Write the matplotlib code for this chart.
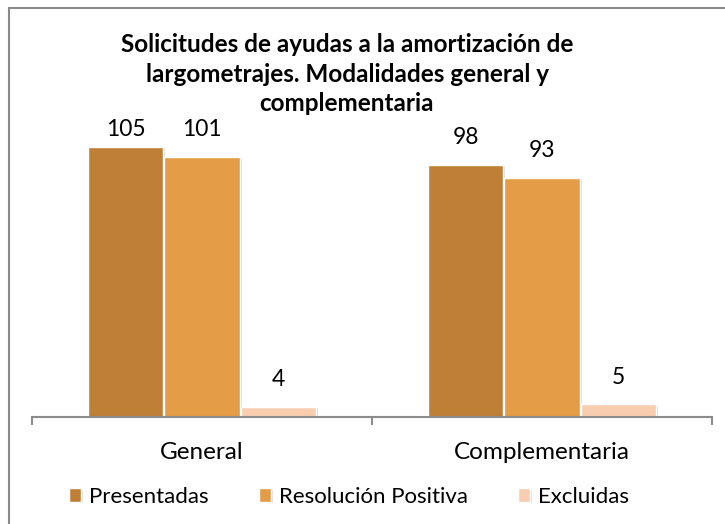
import matplotlib
matplotlib.use('Agg')
import matplotlib.pyplot as plt
import matplotlib.patheffects as pe
from matplotlib.patches import Rectangle
import numpy as np

plt.rcParams['font.family'] = ['Lato', 'DejaVu Sans']

# datos
categorias = ['General', 'Complementaria']
series = ['Presentadas', 'Resolución Positiva', 'Excluidas']
presentadas = [105, 98]
resolucion = [101, 93]
excluidas = [4, 5]
colores = ['#BF7F37', '#E49C46', '#F8CDB0']
titulo = 'Solicitudes de ayudas a la amortización de\nlargometrajes. Modalidades general y\ncomplementaria'

fig = plt.figure(figsize=(7.25, 5.24), dpi=100)
ax = fig.add_axes([32/725, 107/524, 680/725, 309/524])

x = np.arange(len(categorias))
ancho = 0.222
desp = [-0.225, 0, 0.225]
sombra = [pe.SimplePatchShadow(offset=(1.5, -1), shadow_rgbFace='#999999', alpha=0.35), pe.Normal()]
for i, (vals, nombre) in enumerate(zip([presentadas, resolucion, excluidas], series)):
    barras = ax.bar(x + desp[i], vals, width=ancho, color=colores[i], edgecolor='white',
                    linewidth=1, label=nombre, zorder=2)
    for b in barras:
        b.set_path_effects(sombra)
    for xi, v in zip(x, vals):
        # la etiqueta de 105 queda a la altura de 101 (como en Excel)
        ax.annotate(str(v), (xi + desp[i], min(v, 101)), xytext=(0, 19.5), textcoords='offset points',
                    ha='center', va='center', fontsize=16.5, color='black')

ax.set_xlim(-0.5, 1.5)
ax.set_ylim(0, 120)
for s in ['top', 'right', 'left']:
    ax.spines[s].set_visible(False)
ax.spines['bottom'].set_color('#8C8C8C')
ax.spines['bottom'].set_linewidth(1.5)
ax.set_yticks([])
ax.set_xticks([-0.5, 0.5, 1.5])
ax.set_xticklabels([])
ax.tick_params(axis='x', which='major', length=6, width=1.5, color='#8C8C8C', direction='out')
ax.set_xticks(x, minor=True)
ax.set_xticklabels(categorias, minor=True, fontsize=17.5)
ax.tick_params(axis='x', which='minor', length=0, pad=18)

fig.text(347/725, 1 - 74/524, titulo, ha='center', va='center', fontsize=17.5,
         fontweight='bold', linespacing=1.33)

ax.legend(loc='center', bbox_to_anchor=(349/725, 1 - 497/524), bbox_transform=fig.transFigure,
          ncol=3, frameon=False, fontsize=16, handlelength=0.55, handleheight=0.55,
          handletextpad=0.35, columnspacing=2.25)

# borde del gráfico
fig.patches.append(Rectangle((9/725, -0.2), 1.2, 1 - 8/524 + 0.2, transform=fig.transFigure,
                             fill=False, edgecolor='#8A8A8A', linewidth=1.5))

plt.savefig('out.png', dpi=100)
